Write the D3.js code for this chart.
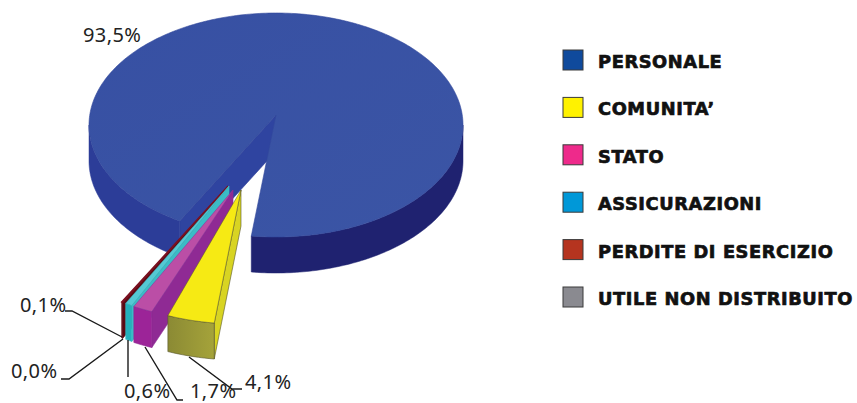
<!DOCTYPE html>
<html>
<head>
<meta charset="utf-8">
<script src="https://cdn.jsdelivr.net/npm/d3@7"></script>
<style>
  html, body { margin: 0; padding: 0; background: #fff; overflow: hidden; }
  svg { display: block; }
</style>
</head>
<body>
<div id="chart"></div>
<script>
// dati del grafico
const categories = ["PERSONALE", "COMUNITA’", "STATO", "ASSICURAZIONI", "PERDITE DI ESERCIZIO", "UTILE NON DISTRIBUITO"];
const values = [93.5, 4.1, 1.7, 0.6, 0.1, 0.0];
const valueLabels = ["93,5%", "4,1%", "1,7%", "0,6%", "0,1%", "0,0%"];

// colori: legenda, faccia superiore, fronte, fianco
const legendColors = ["#0f4a9c", "#fff200", "#ee2a8b", "#0098d8", "#b5341f", "#8a8a90"];
const topColors = ["#3953a4", "#f6ea14", "#bb4ea6", "#55c8d4", "#7a1020", "#555"];
const frontColors = ["#1f2270", "url(#frontYellow)", "#9c2498", "#23b0bc", "#5a0a14", "#444"];
const sideColors = ["#2c3d98", "#d8d422", "#8f2a94", "#3bbcc6", "#5a0a14", "#444"];

// spostamento delle fette esplose (punta e bordo)
const tipShiftX = [0, -35, -43, -47, -48, -48];
const tipShiftY = [0, 75, 75, 71, 71, 71];
const rimShiftX = [0, -37, -53, -55, -58, -58];
const rimShiftY = [0, 87, 83, 82, 81, 81];

const width = 857, height = 403;
const depth = 36;
const apex = [276, 115];
const toRad = Math.PI / 180;

const x = d3.scaleLinear().domain([-1, 1]).range([89, 463]);
const y = d3.scaleLinear().domain([-1, 1]).range([237, 13]);

const svg = d3.select("#chart").append("svg").attr("width", width).attr("height", height);

const defs = svg.append("defs");
const grad = defs.append("linearGradient").attr("id", "frontYellow");
grad.append("stop").attr("offset", 0).attr("stop-color", "#8b8a34");
grad.append("stop").attr("offset", 1).attr("stop-color", "#a5a33a");
const gradTop = defs.append("linearGradient").attr("id", "topBlue").attr("x1", 0).attr("x2", 1).attr("y1", 0).attr("y2", 1);
gradTop.append("stop").attr("offset", 0).attr("stop-color", "#3750a3");
gradTop.append("stop").attr("offset", 1).attr("stop-color", "#3b55a5");

const line = d3.line();
const pie = d3.pie().sort(null).startAngle(211 * toRad).endAngle((211 + 360) * toRad);
const arcs = pie(values);

// punti del bordo fra due angoli
function rim(a0, a1, i, dz) {
  const n = Math.max(2, Math.ceil(Math.abs(a1 - a0) / (1 * toRad)));
  return d3.range(n + 1).map(k => {
    const a = a0 + (a1 - a0) * k / n;
    return [x(Math.sin(a)) + rimShiftX[i], y(Math.cos(a)) + rimShiftY[i] + dz];
  });
}
function tip(i, dz) {
  return [apex[0] + tipShiftX[i], apex[1] + tipShiftY[i] + dz];
}
function wall(a0, a1, i, fill) {
  const pts = rim(a0, a1, i, 0).concat(rim(a1, a0, i, depth));
  svg.append("path").attr("d", line(pts) + "Z").attr("fill", fill).attr("stroke", fill).attr("stroke-width", 0.5);
}

// fetta principale
const main = arcs[0];
wall(90 * toRad, main.endAngle - 2 * Math.PI, 0, frontColors[0]);
wall(main.startAngle, 270 * toRad, 0, sideColors[0]);
const notch = rim(main.startAngle, main.startAngle, 0, 0)[0];
svg.append("path")
  .attr("d", line([apex, notch, [notch[0], notch[1] + depth], [apex[0], apex[1] + depth]]) + "Z")
  .attr("fill", "#2f44a0").attr("stroke", "#2a3a96").attr("stroke-width", 0.6);
svg.append("path")
  .attr("d", line([apex].concat(rim(main.startAngle, main.endAngle, 0, 0))) + "Z")
  .attr("fill", "url(#topBlue)").attr("stroke", "#33489c").attr("stroke-width", 0.6);

// fette esplose, da sinistra verso destra
d3.range(arcs.length - 1, 0, -1).forEach(i => {
  const d = arcs[i];
  if (d.value === 0) return;
  const edge = i === 1 ? "#55542a" : sideColors[i];
  const r0 = rim(d.startAngle, d.startAngle, i, 0)[0];
  svg.append("path")
    .attr("d", line([tip(i, 0), r0, [r0[0], r0[1] + depth], tip(i, depth)]) + "Z")
    .attr("fill", sideColors[i]).attr("stroke", edge).attr("stroke-width", 0.6);
  svg.append("path")
    .attr("d", line(rim(d.startAngle, d.endAngle, i, 0).concat(rim(d.endAngle, d.startAngle, i, depth))) + "Z")
    .attr("fill", frontColors[i]).attr("stroke", edge).attr("stroke-width", 0.6);
  svg.append("path")
    .attr("d", line([tip(i, 0)].concat(rim(d.startAngle, d.endAngle, i, 0))) + "Z")
    .attr("fill", topColors[i]).attr("stroke", i === 4 ? topColors[i] : edge).attr("stroke-width", i === 4 ? 1.4 : 0.5);
});

// etichette con linee di richiamo
const labelFont = "'Noto Sans', sans-serif";
const labelLayout = [
  { x: 83, y: 42, leader: null },
  { x: 245, y: 389, leader: [[242, 389], [232, 389], [189, 357]] },
  { x: 190, y: 398, leader: [[183, 400], [177, 400], [145, 347]] },
  { x: 124, y: 398, leader: [[128, 377], [128, 340]] },
  { x: 20, y: 312, leader: [[65, 311], [72, 311], [122, 337]] },
  { x: 11, y: 378, leader: [[61, 379], [69, 379], [123, 339]] }
];
labelLayout.forEach((l, i) => {
  if (l.leader) {
    svg.append("path").attr("d", line(l.leader)).attr("fill", "none")
      .attr("stroke", "#1a1a1a").attr("stroke-width", 1.4);
  }
  svg.append("text").attr("x", l.x).attr("y", l.y)
    .attr("font-family", labelFont).attr("font-size", 20).attr("fill", "#222")
    .attr("letter-spacing", 0.4)
    .text(valueLabels[i]);
});

// legenda
const legendY = d3.scalePoint().domain(categories).range([60, 297]);
const legend = svg.append("g").selectAll("g").data(categories).join("g")
  .attr("transform", d => `translate(0,${legendY(d)})`);
legend.append("rect")
  .attr("x", 563).attr("y", -10).attr("width", 20).attr("height", 20)
  .attr("fill", (d, i) => legendColors[i]).attr("stroke", "#3a3a3a").attr("stroke-width", 1);
legend.append("text")
  .attr("x", 598).attr("y", 8)
  .attr("font-family", "'DejaVu Sans', sans-serif").attr("font-weight", "bold").attr("font-size", 17.8)
  .attr("fill", "#111").attr("stroke", "#111").attr("stroke-width", 0.7)
  .attr("letter-spacing", 0.6)
  .text(d => d);
</script>
</body>
</html>
